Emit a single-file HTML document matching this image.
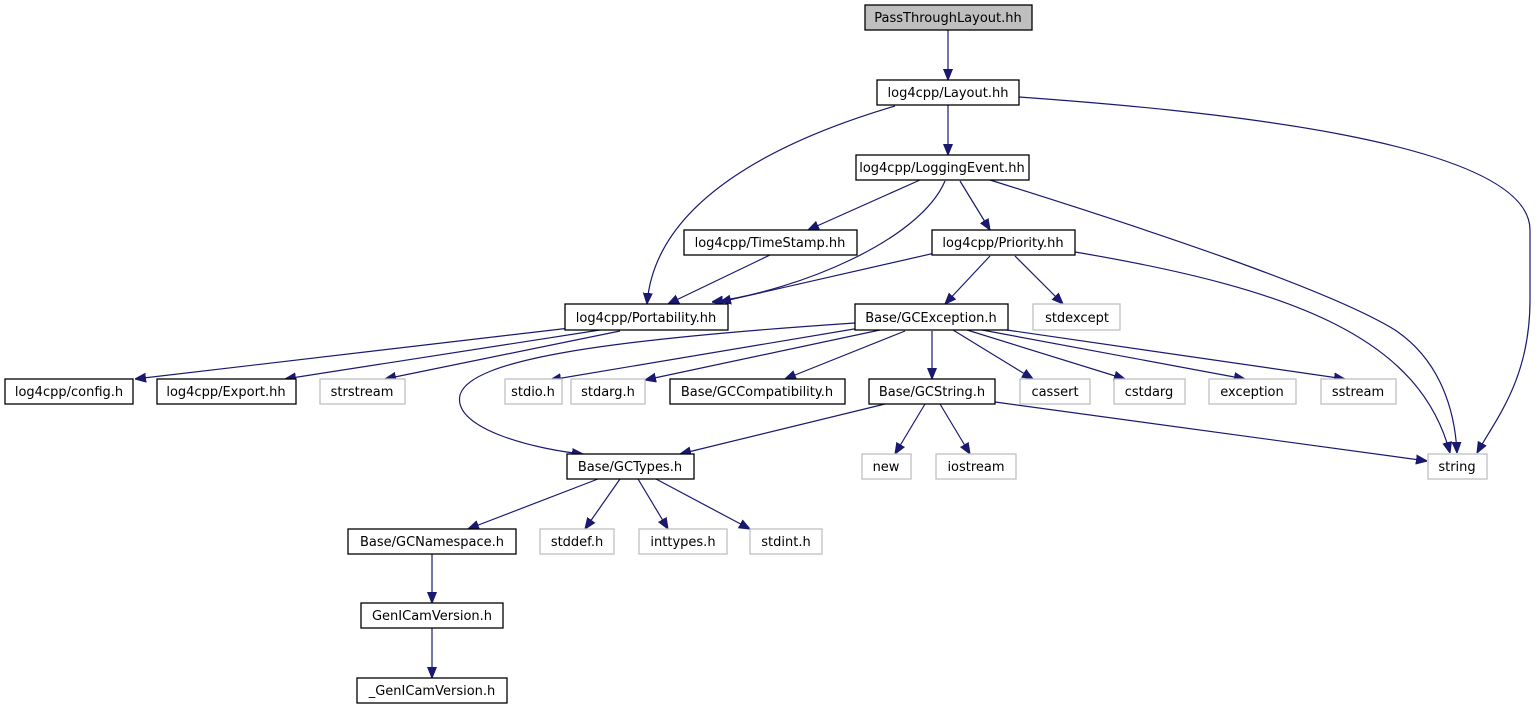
<!DOCTYPE html>
<html><head><meta charset="utf-8"><style>
html,body{margin:0;padding:0;background:#fff;}
svg{display:block;}
text{font-family:"DejaVu Sans","Liberation Sans",sans-serif;font-size:13px;fill:#000;text-anchor:middle;}
.b{fill:#fff;stroke:#000;stroke-width:1.3;}
.g{fill:#fff;stroke:#bfbfbf;stroke-width:1.3;}
.e{fill:none;stroke:#191970;stroke-width:1.2;marker-end:url(#a);}
</style></head><body>
<svg width="1539" height="709" viewBox="0 0 1539 709" xmlns="http://www.w3.org/2000/svg">
<defs><marker id="a" viewBox="0 0 10 10" refX="10" refY="5" markerWidth="11" markerHeight="11" markerUnits="userSpaceOnUse" orient="auto"><path d="M0,1 L10,5 L0,9 z" fill="#191970" stroke="#191970"/></marker></defs>

<path class="e" d="M948,30 L948,80"/>
<path class="e" d="M948,105 L948,155"/>
<path class="e" d="M895,106 C780,140 655,200 647,304"/>
<path class="e" d="M1019,97 C1200,110 1530,140 1530,230 L1530,300 C1530,380 1495,420 1477,453"/>
<path class="e" d="M920,180 L808,230"/>
<path class="e" d="M945,181 C920,240 800,290 712,302"/>
<path class="e" d="M960,181 L990,230"/>
<path class="e" d="M990,180 C1150,230 1330,290 1395,330 C1440,360 1455,410 1457,453"/>
<path class="e" d="M770,255 L668,304"/>
<path class="e" d="M935,253 L720,302"/>
<path class="e" d="M990,256 L945,304"/>
<path class="e" d="M1015,256 L1063,304"/>
<path class="e" d="M1075,252 C1300,290 1420,340 1450,453"/>
<path class="e" d="M570,328 L135,379"/>
<path class="e" d="M600,330 L285,379"/>
<path class="e" d="M620,331 L385,379"/>
<path class="e" d="M855,323 C600,340 470,360 460,395 C452,430 540,450 583,454"/>
<path class="e" d="M860,328 L550,380"/>
<path class="e" d="M880,330 L645,380"/>
<path class="e" d="M905,331 L785,379"/>
<path class="e" d="M932,331 L932,379"/>
<path class="e" d="M953,330 L1033,379"/>
<path class="e" d="M967,330 L1125,379"/>
<path class="e" d="M982,330 L1245,379"/>
<path class="e" d="M1000,329 L1345,379"/>
<path class="e" d="M885,404 L680,454"/>
<path class="e" d="M925,404 L895,454"/>
<path class="e" d="M940,404 L970,454"/>
<path class="e" d="M995,402 L1427,461"/>
<path class="e" d="M598,479 L468,529"/>
<path class="e" d="M620,479 L585,529"/>
<path class="e" d="M638,479 L668,529"/>
<path class="e" d="M656,479 L750,529"/>
<path class="e" d="M432,553 L432,603"/>
<path class="e" d="M432,628 L432,678"/>

<rect x="865" y="5" width="167" height="25" fill="#bfbfbf" stroke="#000" stroke-width="1.3"/><text x="948" y="22">PassThroughLayout.hh</text>
<rect class="b" x="877" y="80" width="142" height="25"/><text x="948" y="97">log4cpp/Layout.hh</text>
<rect class="b" x="856" y="155" width="173" height="25"/><text x="942" y="172">log4cpp/LoggingEvent.hh</text>
<rect class="b" x="684" y="230" width="173" height="25"/><text x="770" y="247">log4cpp/TimeStamp.hh</text>
<rect class="b" x="932" y="230" width="143" height="25"/><text x="1003" y="247">log4cpp/Priority.hh</text>
<rect class="b" x="565" y="304" width="163" height="26"/><text x="646" y="322">log4cpp/Portability.hh</text>
<rect class="b" x="855" y="304" width="153" height="26"/><text x="931" y="322">Base/GCException.h</text>
<rect class="g" x="1033" y="304" width="87" height="26"/><text x="1077" y="322">stdexcept</text>
<rect class="b" x="5" y="379" width="128" height="25"/><text x="69" y="396">log4cpp/config.h</text>
<rect class="b" x="157" y="379" width="139" height="25"/><text x="226" y="396">log4cpp/Export.hh</text>
<rect class="g" x="320" y="379" width="85" height="25"/><text x="362" y="396">strstream</text>
<rect class="g" x="505" y="379" width="57" height="25"/><text x="533" y="396">stdio.h</text>
<rect class="g" x="571" y="379" width="74" height="25"/><text x="608" y="396">stdarg.h</text>
<rect class="b" x="670" y="379" width="175" height="25"/><text x="757" y="396">Base/GCCompatibility.h</text>
<rect class="b" x="869" y="379" width="126" height="25"/><text x="932" y="396">Base/GCString.h</text>
<rect class="g" x="1020" y="379" width="70" height="25"/><text x="1055" y="396">cassert</text>
<rect class="g" x="1114" y="379" width="71" height="25"/><text x="1149" y="396">cstdarg</text>
<rect class="g" x="1209" y="379" width="87" height="25"/><text x="1252" y="396">exception</text>
<rect class="g" x="1321" y="379" width="75" height="25"/><text x="1358" y="396">sstream</text>
<rect class="g" x="862" y="454" width="49" height="25"/><text x="886" y="471">new</text>
<rect class="g" x="936" y="454" width="80" height="25"/><text x="976" y="471">iostream</text>
<rect class="g" x="1428" y="454" width="59" height="25"/><text x="1457" y="471">string</text>
<rect class="b" x="567" y="454" width="127" height="25"/><text x="630" y="471">Base/GCTypes.h</text>
<rect class="b" x="348" y="529" width="168" height="25"/><text x="432" y="546">Base/GCNamespace.h</text>
<rect class="g" x="540" y="529" width="74" height="25"/><text x="577" y="546">stddef.h</text>
<rect class="g" x="639" y="529" width="88" height="25"/><text x="683" y="546">inttypes.h</text>
<rect class="g" x="750" y="529" width="72" height="25"/><text x="786" y="546">stdint.h</text>
<rect class="b" x="361" y="603" width="142" height="25"/><text x="432" y="620">GenICamVersion.h</text>
<rect class="b" x="357" y="678" width="150" height="25"/><text x="432" y="695">_GenICamVersion.h</text>
</svg>
</body></html>
